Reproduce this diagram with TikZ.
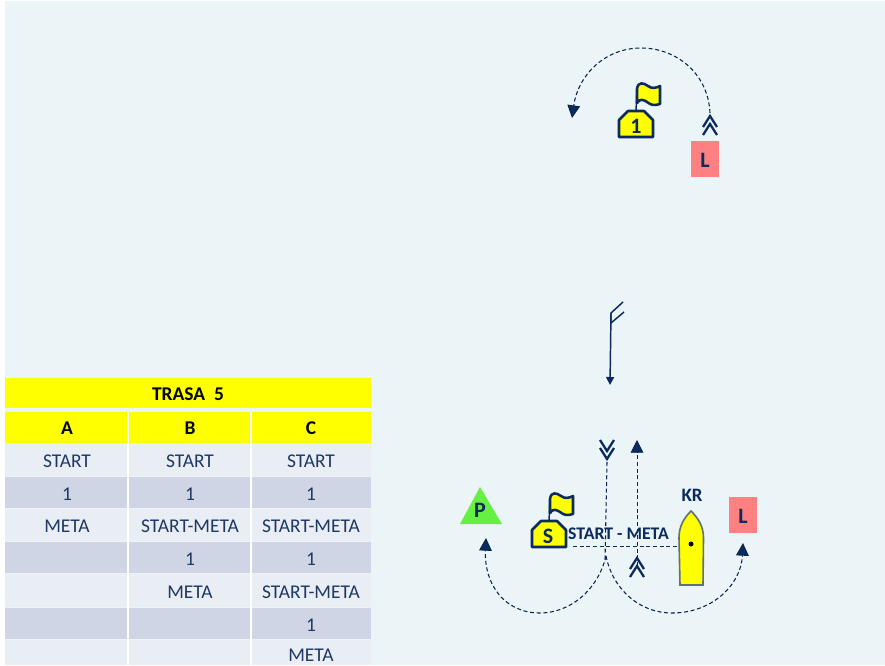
\documentclass[tikz,border=0pt]{standalone}
\usepackage{fontspec}
\setmainfont{Carlito}
\usetikzlibrary{arrows.meta,calc}
\definecolor{bgc}{HTML}{EBF4F7}
\definecolor{navy}{HTML}{0B2A5E}
\definecolor{tabtext}{HTML}{1F3864}
\definecolor{rowa}{HTML}{E9EDF4}
\definecolor{rowb}{HTML}{CFD5E5}
\definecolor{ylw}{HTML}{FFFF00}
\definecolor{mred}{HTML}{FF8080}
\definecolor{mgreen}{HTML}{66F044}
\definecolor{boatedge}{HTML}{5F7078}
\tikzset{
  x=0.75pt,y=-0.75pt,
  cellt/.style={font=\fontsize{14.6}{16}\selectfont,text=tabtext,anchor=center,inner sep=0pt},
  headt/.style={font=\fontsize{14.6}{16}\selectfont\bfseries,text=black!85!navy,anchor=center,inner sep=0pt},
  marklabel/.style={font=\fontsize{16.5}{18}\selectfont\bfseries,text=navy,anchor=center,inner sep=0pt},
  route/.style={draw=navy!85!black,line width=0.8pt,dash pattern=on 3pt off 2pt},
  tipped/.style={route,-{Triangle[length=9.5pt,width=9.5pt,fill=navy]}},
  chev/.style={draw=navy,line width=1.7pt,line join=miter},
  buoy/.style={draw=navy,line width=1.9pt,fill=ylw,line join=round},
  pole/.style={draw=navy,line width=1.1pt},
  redmark/.style={fill=mred,minimum width=21pt,inner sep=0pt},
}
\newcommand{\flagmark}[2]{%
  \begin{scope}[shift={(#1,#2)}]
    \draw[pole] (0,0) -- (1,-22);
    \draw[buoy] (1,-22) .. controls (2,-30) and (8,-28) .. (12,-25) .. controls (16,-22) and (20,-23) .. (24,-25) -- (24,-7) .. controls (18,-5) and (15,-6) .. (11,-9) .. controls (8,-11) and (4,-13) .. (1,-8) -- cycle;
    \draw[buoy] (-17,26) -- (-17,9) -- (-8,0) -- (8,0) -- (17,9) -- (17,26) -- cycle;
  \end{scope}}
\newcommand{\chevup}[2]{%
  \draw[chev] (#1-7,#2+11) -- (#1,#2) -- (#1+7,#2+11);
  \draw[chev] (#1-7,#2+19) -- (#1,#2+8) -- (#1+7,#2+19);}
\newcommand{\chevdown}[2]{%
  \draw[chev] (#1-7,#2-11) -- (#1,#2) -- (#1+7,#2-11);
  \draw[chev] (#1-7,#2-19) -- (#1,#2-8) -- (#1+7,#2-19);}
\begin{document}
\begin{tikzpicture}
\useasboundingbox (0,0) rectangle (885,665);
\fill[white] (0,0) rectangle (885,665);
\fill[bgc] (5,1) rectangle (885,665);
% table
\fill[ylw] (5,378) rectangle (371,408);
\fill[ylw] (5,412) rectangle (371,443);
\foreach \ya/\yb/\rc in {443/476/rowa,477/508/rowb,509/541/rowa,542/573/rowb,574/607/rowa,608/639/rowb,640/665/rowa}
  \fill[\rc] (5,\ya) rectangle (371,\yb);
\foreach \xx in {128,251}
  \draw[white,line width=0.9pt] (\xx,412) -- (\xx,665);
\node[headt] (title) at (188,394) {TRASA\ \ 5};
\node[headt] (ha) at (67,428) {A};
\node[headt] (hb) at (190,428) {B};
\node[headt] (hc) at (311,428) {C};
\node[cellt] (a1) at (67,461) {START};
\node[cellt] (b1) at (190,461) {START};
\node[cellt] (c1) at (311,461) {START};
\node[cellt] (a2) at (67,494) {1};
\node[cellt] (b2) at (190,494) {1};
\node[cellt] (c2) at (311,494) {1};
\node[cellt] (a3) at (67,526) {META};
\node[cellt] (b3) at (190,526) {START-META};
\node[cellt] (c3) at (311,526) {START-META};
\node[cellt] (b4) at (190,559) {1};
\node[cellt] (c4) at (311,559) {1};
\node[cellt] (b5) at (190,592) {META};
\node[cellt] (c5) at (311,592) {START-META};
\node[cellt] (c6) at (311,625) {1};
\node[cellt] (c7) at (311,655) {META};
% top mark
\flagmark{636}{111}
\node[marklabel] (one) at (636,126) {1};
\node[redmark,minimum height=27pt] (ltop) at (705,159) {};
\node[marklabel] (ltoplab) at (705,160) {L};
\chevup{710}{116}
\coordinate (tarcs) at (710,113);
\coordinate (tarce) at (572,118);
\draw[tipped] (tarcs) .. controls (708,72) and (675,48) .. (641,48) .. controls (605,48) and (578,75) .. (tarce);
% wind
\coordinate (wtop) at (611,313);
\coordinate (wmid) at (611,323);
\coordinate (wf1) at (623,302);
\coordinate (wf2) at (624,312);
\coordinate (wtip) at (610,385);
\draw[navy,line width=1.1pt] (wf1) -- (wtop) -- (wmid) -- (wf2);
\draw[navy,line width=1.1pt,-{Triangle[length=6pt,width=6pt]}] (wtop) -- (wtip);
% bottom marks
\fill[mgreen] (480,487) -- (502,524) -- (460,524) -- cycle;
\node[marklabel] (plab) at (480,510) {P};
\flagmark{549}{521}
\node[marklabel] (slab) at (548,536) {S};
\node[font=\fontsize{13.3}{15}\selectfont\bfseries,text=navy,inner sep=0pt] (sm) at (618.5,534) {START - META};
\coordinate (gs) at (573,546.5);
\coordinate (ge) at (680,546.5);
\draw[draw=navy,line width=0.7pt,dash pattern=on 3pt off 2pt] (gs) -- (ge);
\draw[draw=boatedge,line width=1.2pt,fill=ylw] (691,511) .. controls (684,518) and (679,526) .. (679,538) -- (680,585) -- (703,585) -- (703.5,538) .. controls (703.5,526) and (698,518) .. (691,511) -- cycle;
\fill[black] (691,544) circle (2.5);
\node[font=\fontsize{14.2}{16}\selectfont\bfseries,text=navy,inner sep=0pt] (kr) at (692,495) {KR};
\node[redmark,minimum height=27pt] (lbot) at (742.5,515) {};
\node[marklabel] (lbotlab) at (743,516) {L};
% routes
\chevdown{607}{459}
\coordinate (va) at (607,462);
\coordinate (vb) at (605,562);
\draw[route] (va) -- (vb);
\coordinate (ua) at (637,566);
\coordinate (ub) at (637,440);
\draw[route,line width=0.6pt,-{Triangle[length=9.5pt,width=9.5pt,fill=navy]}] (ua) -- (ub);
\chevup{637}{558}
\coordinate (j) at (606,556);
\coordinate (pt) at (486,538);
\coordinate (lt) at (743,543);
\draw[tipped] (j) .. controls (598,590) and (570,613) .. (540,613) .. controls (505,613) and (484,585) .. (pt);
\draw[tipped] (j) .. controls (613,590) and (640,613) .. (672,613) .. controls (712,613) and (741,585) .. (lt);
\end{tikzpicture}
\end{document}
